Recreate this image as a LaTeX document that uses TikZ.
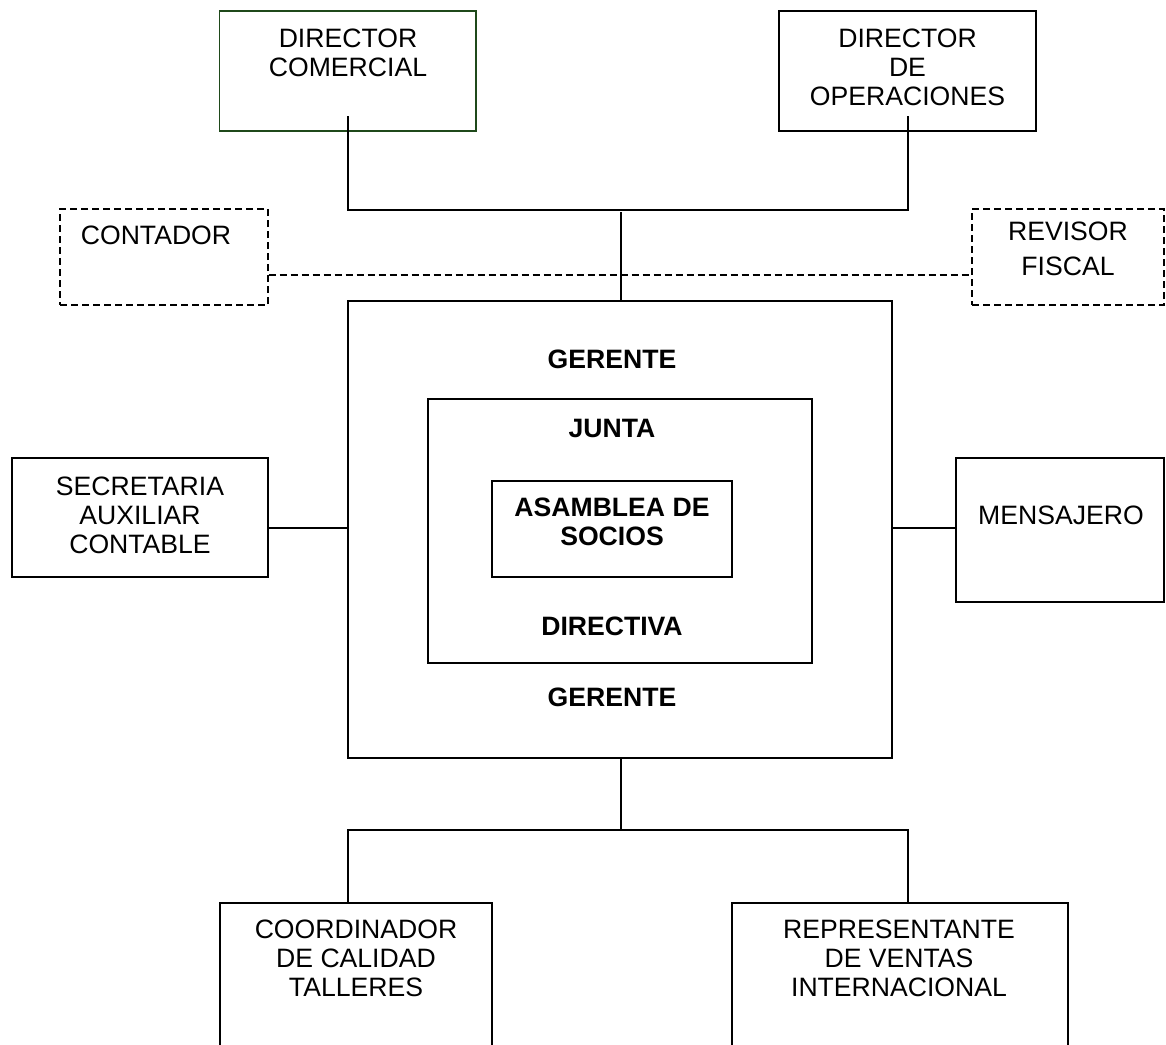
\documentclass[tikz,border=0pt]{standalone}
\usepackage{fontspec}
\setmainfont{Liberation Sans}
\definecolor{dgreen}{RGB}{31,73,26}
\begin{document}
\begin{tikzpicture}[x=1pt,y=-1pt,
  box/.style={draw=black,line width=1.2pt,rectangle,inner sep=0pt},
  dbox/.style={box,dash pattern=on 7pt off 4pt},
  lbl/.style={anchor=north,inner sep=0pt,align=center,font=\fontsize{26.6}{29}\selectfont},
  blbl/.style={lbl,font=\fontsize{26.6}{29}\selectfont\bfseries},
  conn/.style={draw=black,line width=1.2pt},
  dconn/.style={conn,dash pattern=on 7pt off 4pt}]
\useasboundingbox (0,0) rectangle (1166,1044);
\clip (0,0) rectangle (1166,1044);
\fill[white] (0,0) rectangle (1166,1044);

% boxes
\node[box,draw=dgreen,minimum width=256.5pt,minimum height=120pt] (dc) at (347.75,71) {};
\node[box,minimum width=257pt,minimum height=120pt] (dop) at (907.5,71) {};
\node[dbox,minimum width=208pt,minimum height=96pt] (cont) at (164,257) {};
\node[dbox,minimum width=192pt,minimum height=96pt] (rev) at (1068,257) {};
\node[box,minimum width=544pt,minimum height=457pt] (ger) at (620,529.5) {};
\node[box,minimum width=384pt,minimum height=264pt] (jun) at (620,531) {};
\node[box,minimum width=240pt,minimum height=96pt] (asa) at (612,529) {};
\node[box,minimum width=256pt,minimum height=119pt] (sec) at (140,517.5) {};
\node[box,minimum width=208pt,minimum height=144pt] (men) at (1060,530) {};
\node[box,minimum width=272pt,minimum height=161pt] (coo) at (356,983.5) {};
\node[box,minimum width=336pt,minimum height=161pt] (rep) at (900,983.5) {};

% labels
\node[lbl] (tdc) at (348,28.5) {DIRECTOR\\COMERCIAL};
\node[lbl] (tdop) at (907.5,29) {DIRECTOR\\DE\\OPERACIONES};
\node[lbl] (tcont) at (156,226) {CONTADOR};
\node[lbl] (trev) at (1068,222) {REVISOR\\[6pt]FISCAL};
\node[lbl] (tsec) at (140,476.5) {SECRETARIA\\AUXILIAR\\CONTABLE};
\node[lbl] (tmen) at (1061,506) {MENSAJERO};
\node[lbl] (tcoo) at (356,920) {COORDINADOR\\DE CALIDAD\\TALLERES};
\node[lbl] (trep) at (899,920) {REPRESENTANTE\\DE VENTAS\\INTERNACIONAL};
\node[blbl] (tger1) at (612,350) {GERENTE};
\node[blbl] (tjun) at (612,419) {JUNTA};
\node[blbl] (tasa) at (612,498) {ASAMBLEA DE\\SOCIOS};
\node[blbl] (tdir) at (612,617) {DIRECTIVA};
\node[blbl] (tger2) at (612,688) {GERENTE};

% connector points
\coordinate (dcin) at (348,116);
\coordinate (dopin) at (908,116);
\coordinate (tl) at (348,210);
\coordinate (tr) at (908,210);
\coordinate (tm) at (621,212);
\coordinate (bl) at (348,830);
\coordinate (br) at (908,830);
\coordinate (bm) at (621,830);

% connectors
\draw[conn] (dcin) -- (tl) -- (tr) -- (dopin);
\draw[conn] (tm) -- (tm |- ger.north);
\draw[dconn] (cont.east |- 0,275) -- (rev.west |- 0,275);
\draw[conn] (sec.east |- 0,528) -- (ger.west |- 0,528);
\draw[conn] (ger.east |- 0,528) -- (men.west |- 0,528);
\draw[conn] (bm |- ger.south) -- (bm);
\draw[conn] (coo.north -| bl) -- (bl) -- (br) -- (rep.north -| br);
\end{tikzpicture}
\end{document}
